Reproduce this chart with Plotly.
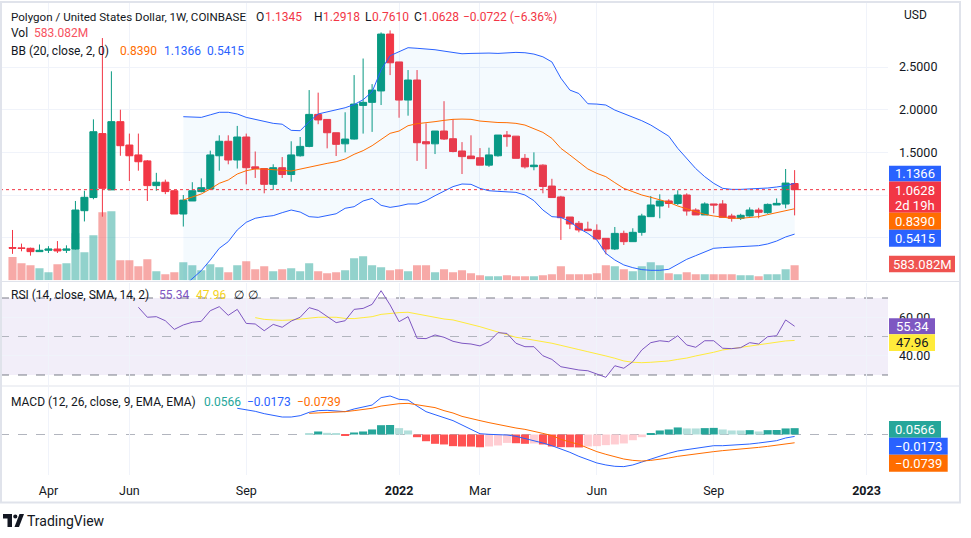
import pandas as pd
import plotly.graph_objects as go

# weekly candles MATIC / USD on Coinbase
dates = pd.date_range("2021-03-08", periods=88, freq="7D")

opens = [0.384, 0.380, 0.375, 0.336, 0.352, 0.367, 0.352, 0.367, 0.816, 0.97,
         1.72, 1.06, 1.86, 1.586, 1.47, 1.40, 1.11, 1.15, 1.05, 0.777,
         0.93, 1.04, 1.07, 1.46, 1.63, 1.41, 1.68, 1.33, 1.31, 1.125,
         1.32, 1.24, 1.46, 1.57, 1.945, 1.886, 1.73, 1.60, 1.656, 2.05,
         2.086, 2.22, 2.887, 2.56, 2.113, 2.348, 1.625, 1.60, 1.75, 1.66,
         1.516, 1.457, 1.437, 1.35, 1.46, 1.703, 1.69, 1.43, 1.332, 1.35,
         1.105, 0.977, 0.742, 0.668, 0.60, 0.586, 0.492, 0.367, 0.55, 0.453,
         0.5625, 0.746, 0.871, 0.93, 0.90, 1.0, 0.824, 0.766, 0.895, 0.895,
         0.754, 0.727, 0.754, 0.824, 0.793, 0.883, 0.894, 1.1345]
highs = [0.59, 0.43, 0.383, 0.42, 0.40, 0.46, 0.41, 0.93, 1.05, 1.887,
         2.84, 2.45, 2.0, 1.72, 1.72, 1.41, 1.26, 1.18, 1.06, 1.0,
         1.15, 1.195, 1.52, 1.70, 1.70, 1.81, 1.72, 1.51, 1.31, 1.36,
         1.445, 1.63, 1.68, 2.23, 2.20, 1.89, 1.73, 1.97, 2.406, 2.60,
         2.30, 2.906, 2.93, 2.56, 2.465, 2.465, 1.84, 1.75, 2.10, 1.89,
         1.62, 1.70, 1.55, 1.555, 1.70, 1.75, 1.69, 1.48, 1.50, 1.36,
         1.19, 0.99, 0.742, 0.695, 0.687, 0.656, 0.492, 0.625, 0.582, 0.61,
         0.78, 0.988, 1.008, 0.95, 1.055, 1.02, 0.844, 0.914, 0.895, 0.94,
         0.78, 0.78, 0.855, 0.85, 0.90, 0.96, 1.305, 1.2918]
lows = [0.31, 0.34, 0.289, 0.336, 0.32, 0.32, 0.32, 0.36, 0.69, 0.95,
        0.746, 1.06, 1.46, 1.164, 1.285, 0.93, 1.05, 1.01, 0.777, 0.63,
        0.93, 1.03, 1.07, 1.285, 1.36, 1.31, 1.125, 1.20, 1.02, 1.06,
        1.20, 1.156, 1.45, 1.56, 1.83, 1.547, 1.457, 1.50, 1.65, 1.72,
        1.74, 2.055, 2.406, 1.906, 1.93, 1.40, 1.305, 1.48, 1.645, 1.50,
        1.246, 1.426, 1.35, 1.33, 1.45, 1.566, 1.43, 1.31, 1.29, 1.02,
        0.97, 0.473, 0.60, 0.5625, 0.582, 0.484, 0.305, 0.355, 0.414, 0.453,
        0.523, 0.746, 0.727, 0.85, 0.883, 0.758, 0.766, 0.766, 0.785, 0.738,
        0.6875, 0.707, 0.746, 0.727, 0.78, 0.883, 0.844, 0.7610]
closes = [0.376, 0.374, 0.336, 0.352, 0.367, 0.344, 0.367, 0.824, 0.973, 1.742,
          1.078, 1.86, 1.578, 1.46, 1.39, 1.11, 1.15, 1.04, 0.777, 0.94,
          1.05, 1.086, 1.47, 1.63, 1.41, 1.68, 1.32, 1.31, 1.125, 1.32,
          1.24, 1.47, 1.57, 1.945, 1.88, 1.73, 1.594, 1.656, 2.066, 2.086,
          2.23, 2.887, 2.55, 2.113, 2.348, 1.613, 1.60, 1.75, 1.656, 1.51,
          1.45, 1.426, 1.35, 1.47, 1.703, 1.684, 1.43, 1.33, 1.35, 1.10,
          0.97, 0.734, 0.66, 0.59, 0.582, 0.484, 0.367, 0.55, 0.453, 0.5625,
          0.754, 0.883, 0.93, 0.90, 1.0, 0.8125, 0.766, 0.895, 0.883, 0.738,
          0.727, 0.762, 0.824, 0.797, 0.89, 0.902, 1.14, 1.0628]
volume_m = [907, 661, 583, 467, 311, 622, 661, 1827, 1089, 1750,
            2644, 2683, 778, 778, 544, 816, 350, 233, 311, 700,
            583, 389, 622, 505, 311, 583, 739, 428, 544, 350,
            428, 467, 350, 661, 350, 272, 311, 389, 855, 933,
            583, 505, 389, 428, 350, 583, 583, 311, 428, 311,
            389, 272, 194, 156, 156, 194, 156, 156, 156, 194,
            233, 544, 233, 233, 233, 272, 583, 544, 428, 350,
            544, 700, 583, 272, 233, 311, 233, 233, 233, 233,
            233, 194, 194, 156, 233, 233, 428, 583.082]

# Bollinger bands (20, close, 2), from bar 19
bb_start = 19
bb_upper = [1.918, 1.914, 1.91, 1.94, 1.97, 1.97, 1.95, 1.91, 1.887, 1.87, 1.84,
            1.83, 1.758, 1.754, 1.86, 1.95, 1.977, 1.996, 2.023, 2.06, 2.117,
            2.21, 2.465, 2.633, 2.68, 2.727, 2.72, 2.715, 2.703, 2.687, 2.672,
            2.656, 2.66, 2.664, 2.664, 2.66, 2.668, 2.672, 2.668, 2.652, 2.62,
            2.56, 2.37, 2.23, 2.19, 2.07, 2.066, 2.055, 1.996, 1.957, 1.914,
            1.871, 1.82, 1.758, 1.69, 1.547, 1.422, 1.31, 1.215, 1.137, 1.078,
            1.066, 1.066, 1.07, 1.074, 1.082, 1.094, 1.11, 1.1366]
bb_basis = [0.941, 0.98, 1.012, 1.07, 1.137, 1.176, 1.246, 1.285, 1.305, 1.305, 1.30,
            1.289, 1.281, 1.305, 1.32, 1.344, 1.371, 1.39, 1.422, 1.477, 1.52,
            1.578, 1.656, 1.723, 1.75, 1.8125, 1.836, 1.844, 1.86, 1.875, 1.887,
            1.89, 1.887, 1.867, 1.855, 1.85, 1.848, 1.84, 1.82, 1.78, 1.734,
            1.664, 1.547, 1.469, 1.39, 1.305, 1.254, 1.215, 1.145, 1.078, 1.039,
            1.0, 0.973, 0.945, 0.914, 0.871, 0.84, 0.805, 0.773, 0.754, 0.738,
            0.727, 0.727, 0.734, 0.746, 0.77, 0.793, 0.816, 0.839]
bb_lower = [-0.074, 0.023, 0.113, 0.238, 0.375, 0.453, 0.59, 0.68, 0.727, 0.746, 0.758,
            0.793, 0.824, 0.80, 0.746, 0.738, 0.758, 0.78, 0.844, 0.863, 0.93,
            0.96, 0.879, 0.855, 0.871, 0.895, 0.895, 0.934, 0.992, 1.047, 1.098,
            1.129, 1.125, 1.078, 1.05, 1.043, 1.039, 1.031, 1.0, 0.934, 0.824,
            0.746, 0.738, 0.6875, 0.609, 0.55, 0.473, 0.316, 0.238, 0.18, 0.148,
            0.125, 0.117, 0.117, 0.129, 0.1875, 0.246, 0.289, 0.336, 0.375, 0.383,
            0.387, 0.39, 0.395, 0.406, 0.426, 0.46, 0.508, 0.5415]

# RSI (14) and its 14-bar SMA
rsi_start = 14
rsi = [65.2, 60.0, 60.3, 58.2, 53.7, 56.0, 57.4, 57.9, 63.4, 65.5,
       61.0, 64.1, 56.8, 56.5, 53.0, 56.3, 54.8, 58.0, 60.0, 65.0,
       63.6, 60.3, 57.2, 58.2, 64.1, 64.6, 66.7, 73.8, 66.4, 57.7,
       60.3, 49.1, 48.9, 50.8, 49.6, 47.5, 46.5, 46.1, 45.1, 47.3,
       52.0, 51.6, 46.5, 44.7, 44.7, 40.0, 38.1, 34.3, 33.5, 32.6,
       32.2, 30.3, 28.8, 34.8, 33.5, 36.9, 43.0, 46.8, 47.8, 47.3,
       50.4, 45.6, 44.4, 47.8, 47.8, 43.9, 43.7, 44.2, 46.8, 46.1,
       49.9, 50.4, 58.6, 55.34]
rsi_ma_start = 27
rsi_ma = [59.8, 58.9, 58.6, 58.4, 58.6, 59.1, 59.4, 60.0, 60.0, 60.0,
          59.4, 59.3, 59.8, 60.3, 61.5, 62.0, 62.4, 62.6, 61.7, 60.8,
          60.0, 59.1, 58.6, 57.5, 56.3, 55.1, 53.7, 52.2, 50.8, 49.6,
          48.9, 48.2, 47.5, 46.5, 45.4, 44.5, 43.2, 42.1, 41.1, 39.9,
          38.7, 37.3, 36.6, 36.4, 36.6, 36.9, 37.3, 38.1, 38.8, 39.9,
          40.7, 41.8, 43.0, 43.7, 44.4, 45.1, 46.0, 46.6, 47.1, 47.7,
          47.96]

# MACD (12, 26, 9)
macd_start = 25
macd = [0.234, 0.222, 0.207, 0.186, 0.171, 0.156, 0.156, 0.168, 0.198, 0.213,
        0.216, 0.21, 0.204, 0.228, 0.243, 0.263, 0.329, 0.344, 0.314, 0.308,
        0.254, 0.204, 0.177, 0.150, 0.124, 0.085, 0.046, 0.007, 0.0015, -0.0015,
        -0.0045, -0.016, -0.034, -0.052, -0.076, -0.100, -0.129, -0.159, -0.195, -0.228,
        -0.254, -0.272, -0.284, -0.287, -0.272, -0.246, -0.219, -0.192, -0.168, -0.147,
        -0.135, -0.124, -0.109, -0.100, -0.100, -0.097, -0.091, -0.085, -0.076, -0.067,
        -0.055, -0.031, -0.0173]
signal_start = 33
signal = [0.189, 0.192, 0.195, 0.198, 0.204, 0.213, 0.222, 0.234, 0.254, 0.266,
          0.275, 0.278, 0.266, 0.257, 0.240, 0.213, 0.192, 0.162, 0.141, 0.124,
          0.106, 0.088, 0.070, 0.058, 0.046, 0.031, 0.010, -0.010, -0.043, -0.067,
          -0.088, -0.121, -0.153, -0.177, -0.201, -0.219, -0.231, -0.237, -0.231, -0.222,
          -0.210, -0.195, -0.183, -0.174, -0.162, -0.153, -0.144, -0.138, -0.129, -0.124,
          -0.115, -0.106, -0.097, -0.085, -0.0739]
hist = [0.009, 0.027, 0.015, 0.009, -0.006, 0.018, 0.027, 0.045, 0.083, 0.085,
        0.057, 0.036, -0.024, -0.060, -0.083, -0.089, -0.104, -0.107, -0.108, -0.114,
        -0.107, -0.098, -0.075, -0.078, -0.083, -0.080, -0.089, -0.107, -0.113, -0.114,
        -0.116, -0.107, -0.104, -0.095, -0.089, -0.080, -0.051, -0.024, 0.009, 0.036,
        0.045, 0.063, 0.054, 0.054, 0.057, 0.059, 0.045, 0.036, 0.036, 0.039,
        0.027, 0.039, 0.040, 0.054, 0.0566]

tick_dates = ["2021-04-05", "2021-06-07", "2021-09-06", "2022-01-03",
              "2022-03-07", "2022-06-06", "2022-09-05", "2023-01-02"]
tick_labels = ["Apr", "Jun", "Sep", "<b>2022</b>", "Mar", "Jun", "Sep", "<b>2023</b>"]
price_ticks = [0.5, 1.0, 1.5, 2.0, 2.5]
price_tick_labels = ["", "", "1.5000", "2.0000", "2.5000"]  # lower two sit under the tags

FONT = "Roboto"
TXT = "#131722"
GREEN = "#089981"
RED = "#F23645"
BLUE = "#2962FF"
ORANGE = "#FF6D00"
PURPLE = "#7E57C2"
YELLOW = "#FFEB3B"
GRID = "#f0f3fa"

# plot area is 888 x 475 px, helpers to place things in pixel terms
PW, PH = 888, 475
def px(x):
    return x / PW
def py(y):
    return (PH - y) / PH

vol_colors = ["rgba(38,166,154,0.5)" if c >= o else "rgba(239,83,80,0.5)"
              for o, c in zip(opens, closes)]

hist_colors = []
prev = hist[0]
for h in hist:
    if h >= 0:
        hist_colors.append("#26A69A" if h > prev else "#B2DFDB")
    else:
        hist_colors.append("#FFCDD2" if h > prev else "#FF5252")
    prev = h

fig = go.Figure()

# volume at the bottom of the price pane
fig.add_trace(go.Bar(x=dates, y=volume_m, marker_color=vol_colors, marker_line_width=0,
                     xaxis="x", yaxis="y"))

bb_x = dates[bb_start:]
fig.add_trace(go.Scatter(x=bb_x, y=bb_upper, mode="lines", line=dict(color=BLUE, width=1),
                         xaxis="x", yaxis="y2"))
fig.add_trace(go.Scatter(x=bb_x, y=bb_lower, mode="lines", line=dict(color=BLUE, width=1),
                         fill="tonexty", fillcolor="rgba(33,150,243,0.05)",
                         xaxis="x", yaxis="y2"))
fig.add_trace(go.Scatter(x=bb_x, y=bb_basis, mode="lines", line=dict(color=ORANGE, width=1),
                         xaxis="x", yaxis="y2"))

fig.add_trace(go.Candlestick(
    x=dates, open=opens, high=highs, low=lows, close=closes,
    increasing=dict(line=dict(color=GREEN, width=1), fillcolor=GREEN),
    decreasing=dict(line=dict(color=RED, width=1), fillcolor=RED),
    xaxis="x", yaxis="y2"))

# RSI pane
fig.add_trace(go.Scatter(x=dates[rsi_ma_start:], y=rsi_ma, mode="lines",
                         line=dict(color=YELLOW, width=1), xaxis="x2", yaxis="y3"))
fig.add_trace(go.Scatter(x=dates[rsi_start:], y=rsi, mode="lines",
                         line=dict(color=PURPLE, width=1), xaxis="x2", yaxis="y3"))

# MACD pane
fig.add_trace(go.Bar(x=dates[signal_start:], y=hist, marker_color=hist_colors,
                     marker_line_width=0, xaxis="x3", yaxis="y4"))
fig.add_trace(go.Scatter(x=dates[macd_start:], y=macd, mode="lines",
                         line=dict(color=BLUE, width=1), xaxis="x3", yaxis="y4"))
fig.add_trace(go.Scatter(x=dates[signal_start:], y=signal, mode="lines",
                         line=dict(color=ORANGE, width=1), xaxis="x3", yaxis="y4"))

x_range = ["2021-02-26 06:24", "2023-01-18 17:00"]
xcommon = dict(type="date", range=x_range, tickvals=tick_dates, ticktext=tick_labels,
               showgrid=True, gridcolor=GRID, gridwidth=1, zeroline=False, showline=False,
               ticks="", fixedrange=True)

fig.update_layout(
    width=971, height=538,
    margin=dict(l=0, r=971 - PW, t=0, b=538 - PH, autoexpand=False),
    paper_bgcolor="white", plot_bgcolor="white",
    showlegend=False, hovermode=False,
    bargap=0.1, boxgap=0.22, boxgroupgap=0,
    font=dict(family=FONT, color=TXT, size=12),
    xaxis=dict(xcommon, anchor="y", showticklabels=False, rangeslider=dict(visible=False)),
    xaxis2=dict(xcommon, anchor="y3", showticklabels=False),
    xaxis3=dict(xcommon, anchor="y4", showticklabels=True,
                tickfont=dict(size=12.5, color=TXT, family=FONT), ticklabelstandoff=6),
    yaxis=dict(domain=[py(280.3), py(3)], range=[0, 10770], visible=False, fixedrange=True),
    yaxis2=dict(domain=[py(280.3), py(3)], range=[0, 3.251], overlaying="y", side="right",
                anchor="x", tickvals=price_ticks, ticktext=price_tick_labels,
                showgrid=True, gridcolor=GRID, zeroline=False, ticks="",
                ticklabelstandoff=10, tickfont=dict(size=12.5, color=TXT), fixedrange=True),
    yaxis3=dict(domain=[py(385), py(283)], range=[24.8, 77.8], side="right", anchor="x2",
                tickvals=[40, 60], ticktext=["40.00", "60.00"], showgrid=True,
                gridcolor=GRID, zeroline=False, ticks="", ticklabelstandoff=10,
                tickfont=dict(size=12.5, color=TXT), fixedrange=True),
    yaxis4=dict(domain=[0, py(387)], range=[-0.3616, 0.4241], side="right", anchor="x3",
                showgrid=False, zeroline=False, showticklabels=False, fixedrange=True),
)

# RSI band and levels
fig.add_shape(type="rect", xref="x2 domain", yref="y3", x0=0, x1=1, y0=30, y1=70,
              fillcolor="rgba(126,87,194,0.1)", line_width=0, layer="below")
for lvl, col in [(70, "#787B86"), (30, "#787B86"), (50, "#B2B5BE")]:
    fig.add_shape(type="line", xref="x2 domain", yref="y3", x0=0, x1=1, y0=lvl, y1=lvl,
                  line=dict(color=col, width=1, dash="dash"), layer="below")
# MACD zero line
fig.add_shape(type="line", xref="x3 domain", yref="y4", x0=0, x1=1, y0=0, y1=0,
              line=dict(color="#B2B5BE", width=1, dash="dash"), layer="below")
# last price line
fig.add_shape(type="line", xref="x domain", yref="y2", x0=0, x1=1, y0=1.0628, y1=1.0628,
              line=dict(color=RED, width=1, dash="dot"), layer="above")

# pane separators and frame
FRAME = "#e0e3eb"
for yy in (281.5, 386):
    fig.add_shape(type="line", xref="paper", yref="paper", x0=0, x1=px(960), y0=py(yy), y1=py(yy),
                  line=dict(color=FRAME, width=1), layer="above")
fig.add_shape(type="rect", xref="paper", yref="paper", x0=px(1), x1=px(960), y0=py(502.5), y1=py(2),
              line=dict(color=FRAME, width=2), fillcolor="rgba(0,0,0,0)", layer="above")


def text(x, y, s, color=TXT, size=12, anchor="left"):
    fig.add_annotation(xref="paper", yref="paper", x=px(x), y=py(y), text=s, showarrow=False,
                       xanchor=anchor, yanchor="middle", borderpad=0,
                       font=dict(color=color, size=size, family=FONT))


def tag(y0, y1, x1, color, s, tcolor="white"):
    fig.add_shape(type="rect", xref="paper", yref="paper", x0=px(889), x1=px(x1),
                  y0=py(y1), y1=py(y0), fillcolor=color, line_width=0, layer="above")
    if isinstance(s, str):
        text((889 + x1) / 2, (y0 + y1) / 2, s, tcolor, 13, "center")
    else:
        text((889 + x1) / 2, y0 + 8.5, s[0], tcolor, 13, "center")
        text((889 + x1) / 2, y1 - 7.5, s[1], tcolor, 13, "center")


# legend rows
text(10, 16.5, "Polygon / United States Dollar, 1W, COINBASE", TXT, 11.6)
for lx, letter, nx, val in [(255, "O", 264, "1.1345"), (313, "H", 322, "1.2918"),
                            (364, "L", 371, "0.7610"), (413, "C", 421, "1.0628")]:
    text(lx, 16.5, letter)
    text(nx, 16.5, val, RED)
text(462, 16.5, "−0.0722 (−6.36%)", RED)
text(10, 33.5, "Vol")
text(33, 33.5, "583.082M", "#F7525F")
text(10, 50.5, "BB (20, close, 2, 0)")
text(119, 50.5, "0.8390", ORANGE)
text(163, 50.5, "1.1366", BLUE)
text(206, 50.5, "0.5415", BLUE)
text(10, 295, "RSI (14, close, SMA, 14, 2)")
text(158, 295, "55.34", PURPLE)
text(195, 295, "47.96", "#F5D322")
text(233, 295, "∅")
text(247, 295, "∅")
text(10, 402, "MACD (12, 26, close, 9, EMA, EMA)")
text(203, 402, "0.0566", "#26A69A")
text(246, 402, "−0.0173", BLUE)
text(296, 402, "−0.0739", ORANGE)
text(903, 15, "USD", TXT, 12)

# price scale tags
tag(165.7, 181.5, 941, BLUE, "1.1366")
tag(181.5, 212.7, 941, RED, ("1.0628", "2d 19h"))
tag(212.7, 229.7, 941, ORANGE, "0.8390")
tag(229.7, 246.7, 941, BLUE, "0.5415")
tag(255.7, 272.3, 955, "#EF5350", "583.082M")
tag(318.3, 334.2, 935, PURPLE, "55.34")
tag(334.2, 351, 935, YELLOW, "47.96", TXT)
tag(421, 437.7, 941, "#26A69A", "0.0566")
tag(437.7, 454.7, 947.7, BLUE, "−0.0173")
tag(454.7, 471.7, 947.7, ORANGE, "−0.0739")

# TradingView mark
fig.add_shape(type="rect", xref="paper", yref="paper", x0=px(3), x1=px(12), y0=py(518.5), y1=py(514),
              fillcolor=TXT, line_width=0)
fig.add_shape(type="rect", xref="paper", yref="paper", x0=px(7.5), x1=px(12), y0=py(527), y1=py(514),
              fillcolor=TXT, line_width=0)
fig.add_shape(type="circle", xref="paper", yref="paper", x0=px(13.2), x1=px(17.4),
              y0=py(518.6), y1=py(514.4), fillcolor=TXT, line_width=0)
fig.add_shape(type="path", xref="paper", yref="paper",
              path=f"M {px(19.5)} {py(514)} L {px(24)} {py(514)} L {px(19)} {py(527)} L {px(14.5)} {py(527)} Z",
              fillcolor=TXT, line_width=0)
text(26, 520.5, "TradingView", TXT, 14)

# the page body has a default 8px margin; remove it so the chart sits at 0,0
fig.write_html("out.html", config={"displayModeBar": False},
               post_script="document.body.style.margin='0';")
